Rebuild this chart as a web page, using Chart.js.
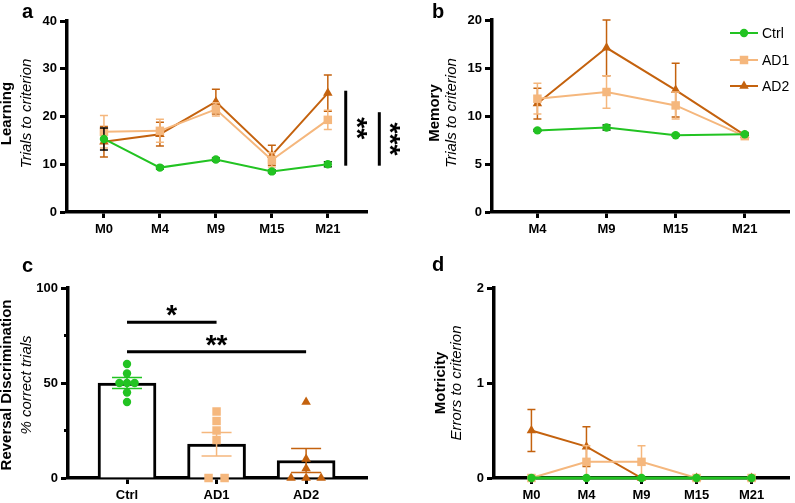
<!DOCTYPE html>
<html><head><meta charset="utf-8">
<script src="https://cdn.jsdelivr.net/npm/chart.js@4.4.1/dist/chart.umd.min.js"></script>
<style>
html,body{margin:0;padding:0;background:#fff;width:795px;height:503px;overflow:hidden}
canvas{position:absolute;display:block}
</style></head><body>
<canvas id="ca" width="400" height="250" style="left:0;top:0"></canvas>
<canvas id="cb" width="395" height="250" style="left:400px;top:0"></canvas>
<canvas id="cc" width="400" height="253" style="left:0;top:250px"></canvas>
<canvas id="cd" width="395" height="253" style="left:400px;top:250px"></canvas>
<script>
// ---------- DATA ----------
const monthsA = ['M0', 'M4', 'M9', 'M15', 'M21'];
const learnCtrl = [15.3, 9.3, 11.0, 8.5, 10.0];
const learnCtrlSem = [2.3, 0.3, 0.3, 0.3, 0.5];
const learnAD1 = [16.8, 17.0, 21.5, 10.9, 19.3];
const learnAD1Sem = [3.4, 2.4, 1.4, 1.5, 2.0];
const learnAD2 = [14.7, 16.3, 23.1, 11.9, 24.9];
const learnAD2Sem = [3.2, 2.5, 2.6, 2.1, 3.8];

const monthsB = ['M4', 'M9', 'M15', 'M21'];
const memCtrl = [8.5, 8.8, 8.0, 8.1];
const memCtrlSem = [0.1, 0.25, 0.1, 0.1];
const memAD1 = [11.8, 12.5, 11.1, 7.9];
const memAD1Sem = [1.6, 1.7, 1.4, 0.2];
const memAD2 = [11.3, 17.1, 12.7, 8.0];
const memAD2Sem = [1.6, 2.9, 2.8, 0.2];

const groupsC = ['Ctrl', 'AD1', 'AD2'];
const revMean = [50, 17.8, 9.2];
const revSem = [2.9, 6.2, 6.3];
const revCtrl = [60, 55, 50, 50, 50, 45, 40];
const revAD1 = [35, 30, 25, 20, 0, 0];
const revAD2 = [40, 10, 5, 0, 0, 0];

const monthsD = ['M0', 'M4', 'M9', 'M15', 'M21'];
const motCtrl = [0, 0, 0, 0, 0];
const motAD1 = [0, 0.17, 0.17, 0, 0];
const motAD1Sem = [0, 0.17, 0.17, 0, 0];
const motAD2 = [0.5, 0.33, 0, 0, 0];
const motAD2Sem = [0.22, 0.21, 0, 0, 0];

const seriesNames = ['Ctrl', 'AD1', 'AD2'];

// significance annotations (value units)
const sigA = [{x: 4.32, from: 9.7, to: 25.4, text: '**'}, {x: 4.92, from: 9.7, to: 20.9, text: '***'}];
const sigC = [{from: 0, to: 1, y: 82, text: '*'}, {from: 0, to: 2, y: 66.5, text: '**'}];

// ---------- STYLE ----------
const FONT = '"Liberation Sans", Arial, Helvetica, sans-serif';
const GREEN = '#22c322', LIGHT = '#f5b77d', DARK = '#c4620e';
const axisFont = {family: FONT, size: 13, weight: 'bold'};

const pts = arr => arr.map((y, i) => ({x: i, y}));

function jitter(values, idx, step) {
  const counts = {}, seen = {};
  values.forEach(v => counts[v] = (counts[v] || 0) + 1);
  return values.map(v => {
    const n = counts[v];
    const k = (seen[v] = (seen[v] || 0) + 1) - 1;
    return {x: idx + (k - (n - 1) / 2) * step, y: v};
  });
}

function series(label, values, sem, color, errColor, style, radius, width) {
  return {
    type: 'line', label, data: pts(values), borderColor: color, backgroundColor: color,
    borderWidth: width || 2, pointStyle: style, pointRadius: radius, pointBorderWidth: 0,
    pointBackgroundColor: color, tension: 0, clip: false,
    errBars: sem ? {values: sem, color: errColor, cap: 4, width: 1.5} : null
  };
}

function xScale(labels, min, max, height) {
  return {
    type: 'linear', min, max, offset: false,
    afterBuildTicks: s => { s.ticks = labels.map((_, i) => ({value: i})); },
    afterFit: s => { s.height = height; },
    ticks: {callback: v => labels[v] ?? '', font: axisFont, color: '#000', padding: 4, maxRotation: 0, autoSkip: false},
    grid: {offset: false, drawOnChartArea: false, drawTicks: true, tickLength: 6, tickWidth: 3, color: '#000'},
    border: {display: true, color: '#000', width: 3.5}
  };
}
function yScale(min, max, step, width) {
  return {
    type: 'linear', min, max,
    afterFit: s => { s.width = width; },
    ticks: {stepSize: step, font: axisFont, color: '#000', padding: 3},
    grid: {drawOnChartArea: false, drawTicks: true, tickLength: 7, tickWidth: 3, color: '#000'},
    border: {display: true, color: '#000', width: 3.5}
  };
}

function drawErr(chart, meta, ds) {
  const e = ds.errBars, ctx = chart.ctx, ys = chart.scales.y;
  ctx.save();
  ctx.lineWidth = e.width;
  meta.data.forEach((el, i) => {
    const s = e.values[i];
    if (!s) return;
    const v = ds.data[i].y;
    const col = Array.isArray(e.color) ? e.color[i] : e.color;
    const x = el.x, y1 = ys.getPixelForValue(v + s), y2 = ys.getPixelForValue(v - s);
    ctx.strokeStyle = col;
    ctx.beginPath();
    ctx.moveTo(x, y1); ctx.lineTo(x, y2);
    ctx.moveTo(x - e.cap, y1); ctx.lineTo(x + e.cap, y1);
    ctx.moveTo(x - e.cap, y2); ctx.lineTo(x + e.cap, y2);
    ctx.stroke();
  });
  ctx.restore();
}

function drawStar(ctx, text, cx, cy, rot) {
  ctx.save();
  ctx.font = 'bold 28px ' + FONT;
  ctx.fillStyle = '#000';
  ctx.textAlign = 'center';
  ctx.textBaseline = 'alphabetic';
  const m = ctx.measureText(text);
  ctx.translate(cx, cy);
  ctx.rotate(rot);
  ctx.fillText(text, 0, (m.actualBoundingBoxAscent - m.actualBoundingBoxDescent) / 2);
  ctx.restore();
}

const deco = {
  id: 'deco',
  beforeDatasetDraw(chart, args) {
    const ds = chart.data.datasets[args.index];
    if (ds.errBars && !ds.errBars.after) drawErr(chart, args.meta, ds);
  },
  afterDatasetDraw(chart, args) {
    const ds = chart.data.datasets[args.index];
    if (ds.errBars && ds.errBars.after) drawErr(chart, args.meta, ds);
  },
  afterDraw(chart, args, o) {
    const ctx = chart.ctx, ca = chart.chartArea, xs = chart.scales.x, ys = chart.scales.y;
    ctx.save();
    if (o.titles) {
      const cy = (ca.top + ca.bottom) / 2 + (o.titles.dy || 0);
      ctx.fillStyle = '#000'; ctx.textAlign = 'center'; ctx.textBaseline = 'middle';
      [[o.titles.bold, 'bold 15px ' + FONT, o.titles.bx], [o.titles.italic, 'italic 15px ' + FONT, o.titles.ix]].forEach(([t, f, dx]) => {
        ctx.save(); ctx.translate(ca.left + dx, cy); ctx.rotate(-Math.PI / 2); ctx.font = f; ctx.fillText(t, 0, 0); ctx.restore();
      });
    }
    if (o.letter) {
      ctx.fillStyle = '#000'; ctx.textAlign = 'left'; ctx.textBaseline = 'alphabetic';
      ctx.font = 'bold 20px ' + FONT;
      ctx.fillText(o.letter.text, o.letter.x, o.letter.y);
    }
    if (o.minor) {
      ctx.strokeStyle = '#000'; ctx.lineWidth = 3;
      const t = ys.ticks;
      for (let i = 0; i < t.length - 1; i++) {
        const y = ys.getPixelForValue((t[i].value + t[i + 1].value) / 2);
        ctx.beginPath(); ctx.moveTo(ca.left - o.minor, y); ctx.lineTo(ca.left, y); ctx.stroke();
      }
    }
    if (o.sigV) {
      o.sigV.forEach(s => {
        const x = xs.getPixelForValue(s.x), y1 = ys.getPixelForValue(s.from), y2 = ys.getPixelForValue(s.to);
        ctx.strokeStyle = '#000'; ctx.lineWidth = 3;
        ctx.beginPath(); ctx.moveTo(x, y1); ctx.lineTo(x, y2); ctx.stroke();
        drawStar(ctx, s.text, x + 15.5, (y1 + y2) / 2, Math.PI / 2);
      });
    }
    if (o.sigH) {
      o.sigH.forEach(s => {
        const x1 = xs.getPixelForValue(s.from), x2 = xs.getPixelForValue(s.to), y = ys.getPixelForValue(s.y);
        ctx.strokeStyle = '#000'; ctx.lineWidth = 3;
        ctx.beginPath(); ctx.moveTo(x1, y); ctx.lineTo(x2, y); ctx.stroke();
        drawStar(ctx, s.text, (x1 + x2) / 2, y - 11.5, 0);
      });
    }
    if (o.legend) {
      const L = o.legend;
      chart.data.datasets.forEach((ds, i) => {
        const y = L.ys[i];
        ctx.strokeStyle = ds.borderColor; ctx.lineWidth = 2;
        ctx.beginPath(); ctx.moveTo(L.x0, y); ctx.lineTo(L.x1, y); ctx.stroke();
        ctx.fillStyle = ds.borderColor;
        Chart.helpers.drawPoint(ctx, {pointStyle: ds.pointStyle, radius: ds.pointRadius, rotation: 0, borderWidth: 0}, (L.x0 + L.x1) / 2, y);
        ctx.fillStyle = '#000'; ctx.font = '14px ' + FONT; ctx.textAlign = 'left'; ctx.textBaseline = 'middle';
        ctx.fillText(ds.label, L.tx, y + 1);
      });
    }
    ctx.restore();
  }
};
Chart.register(deco);

function common(pad, deco, scales) {
  return {
    responsive: false, animation: false, devicePixelRatio: 1, events: [],
    layout: {padding: pad},
    plugins: {legend: {display: false}, tooltip: {enabled: false}, deco},
    scales
  };
}

// ---------- PANEL A ----------
new Chart(document.getElementById('ca'), {
  type: 'line',
  data: {datasets: [
    series(seriesNames[0], learnCtrl, learnCtrlSem, GREEN, '#000', 'circle', 4.2),
    series(seriesNames[1], learnAD1, learnAD1Sem, LIGHT, LIGHT, 'rect', 6),
    series(seriesNames[2], learnAD2, learnAD2Sem, DARK, DARK, 'triangle', 5.5)
  ]},
  options: common({top: 21, right: 33, left: 0, bottom: 0},
    {titles: {bold: 'Learning', italic: 'Trials to criterion', bx: -60, ix: -40, dy: -3},
     letter: {text: 'a', x: 22, y: 18}, sigV: sigA},
    {x: xScale(monthsA, -0.66, 4.70, 38), y: yScale(0, 40, 10, 67)})
});

// ---------- PANEL B ----------
new Chart(document.getElementById('cb'), {
  type: 'line',
  data: {datasets: [
    series(seriesNames[0], memCtrl, memCtrlSem, GREEN, '#000', 'circle', 4.2),
    series(seriesNames[1], memAD1, memAD1Sem, LIGHT, LIGHT, 'rect', 6),
    series(seriesNames[2], memAD2, memAD2Sem, DARK, DARK, 'triangle', 5.5)
  ]},
  options: common({top: 20, right: 2, left: 0, bottom: 0},
    {titles: {bold: 'Memory', italic: 'Trials to criterion', bx: -57, ix: -40, dy: -3},
     letter: {text: 'b', x: 32, y: 18},
     legend: {x0: 330, x1: 358, tx: 362, ys: [33, 60, 86]}},
    {x: xScale(monthsB, -0.657, 3.64, 38), y: yScale(0, 20, 5, 92)})
});

// ---------- PANEL C ----------
new Chart(document.getElementById('cc'), {
  type: 'bar',
  data: {datasets: [
    {type: 'scatter', label: 'Ctrl', data: jitter(revCtrl, 0, 0.085), pointStyle: 'circle', pointRadius: 4.2, pointBorderWidth: 0, backgroundColor: GREEN, clip: false},
    {type: 'scatter', label: 'AD1', data: jitter(revAD1, 1, 0.179), pointStyle: 'rect', pointRadius: 6, pointBorderWidth: 0, backgroundColor: LIGHT, clip: false},
    {type: 'scatter', label: 'AD2', data: jitter(revAD2, 2, 0.168), pointStyle: 'triangle', pointRadius: 5.5, pointBorderWidth: 0, backgroundColor: DARK, clip: false},
    {type: 'bar', label: 'mean', data: pts(revMean), backgroundColor: '#fff', borderColor: '#000', borderWidth: 3,
     barThickness: 58, borderSkipped: 'bottom',
     errBars: {values: revSem, color: [GREEN, LIGHT, DARK], cap: 15, width: 1.5, after: true}}
  ]},
  options: common({top: 38, right: 33, left: 0, bottom: 0},
    {titles: {bold: 'Reversal Discrimination', italic: '% correct trials', bx: -61, ix: -41, dy: 2},
     letter: {text: 'c', x: 22, y: 22}, sigH: sigC, minor: 4},
    {x: xScale(groupsC, -0.659, 2.68, 25), y: yScale(0, 100, 50, 68)})
});

// ---------- PANEL D ----------
new Chart(document.getElementById('cd'), {
  type: 'line',
  data: {datasets: [
    series(seriesNames[0], motCtrl, null, GREEN, '#000', 'circle', 4.2, 3),
    series(seriesNames[1], motAD1, motAD1Sem, LIGHT, LIGHT, 'rect', 6),
    series(seriesNames[2], motAD2, motAD2Sem, DARK, DARK, 'triangle', 5.5)
  ]},
  options: common({top: 38, right: 2, left: 0, bottom: 0},
    {titles: {bold: 'Motricity', italic: 'Errors to criterion', bx: -53, ix: -37, dy: 0},
     letter: {text: 'd', x: 32, y: 21}},
    {x: xScale(monthsD, -0.68, 4.68, 25), y: yScale(0, 2, 1, 94)})
});
</script>
</body></html>
